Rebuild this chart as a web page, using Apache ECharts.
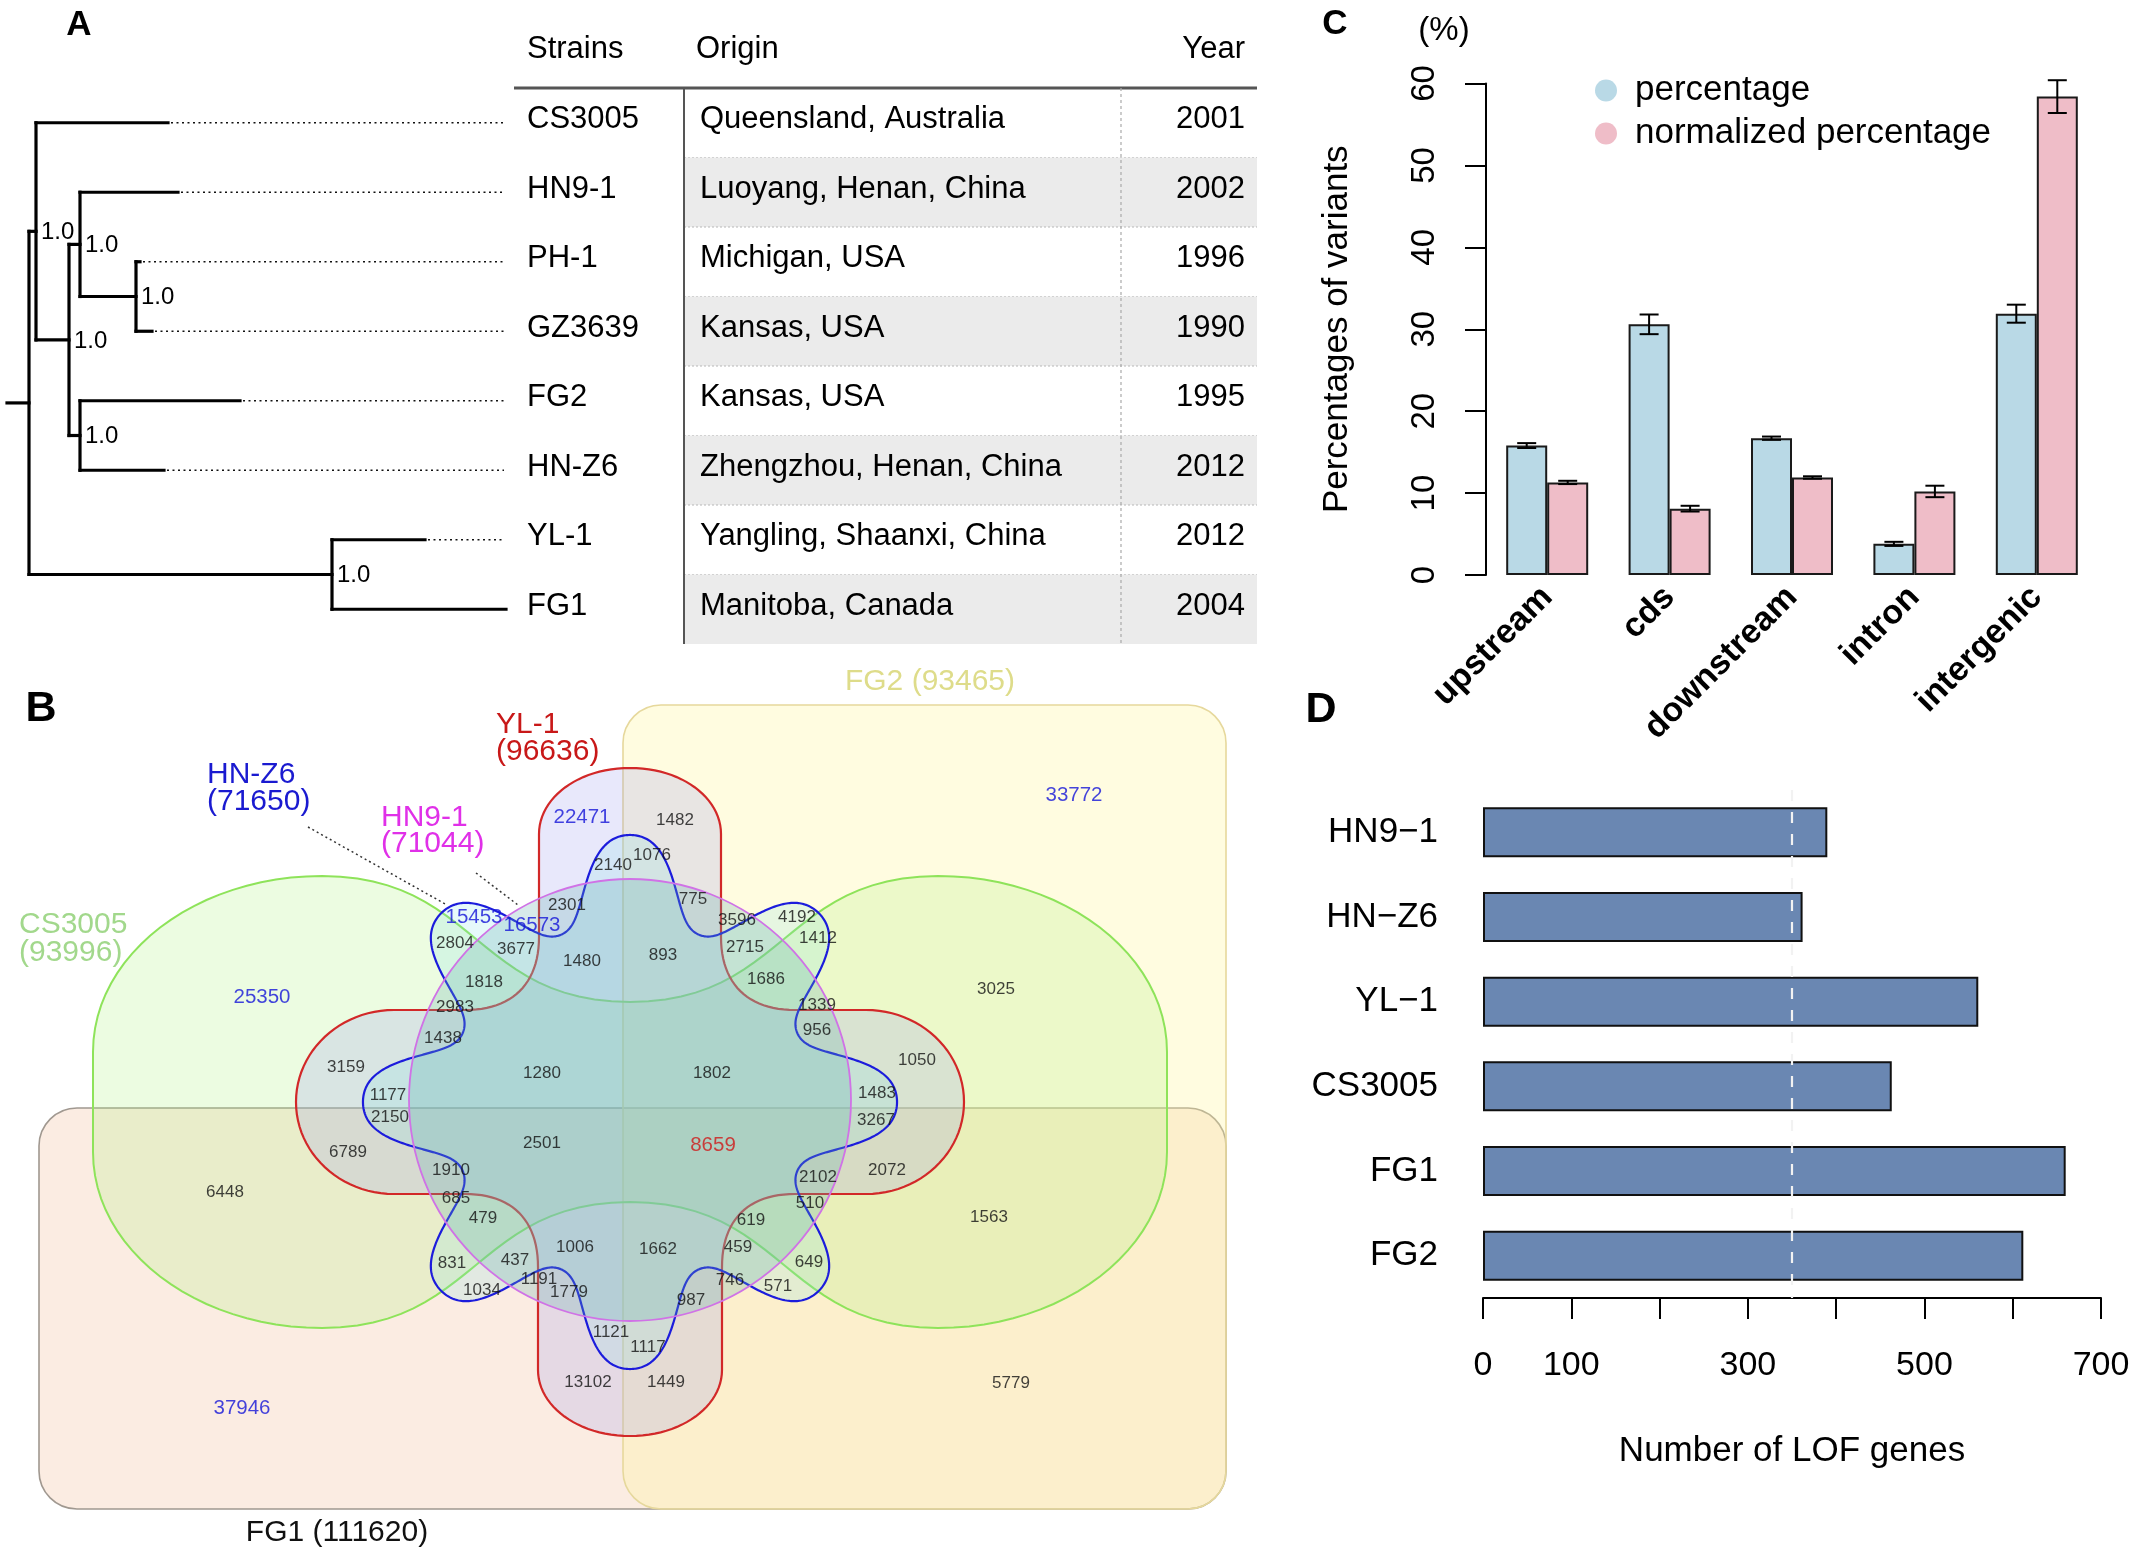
<!DOCTYPE html>
<html><head><meta charset="utf-8">
<script src="https://cdn.jsdelivr.net/npm/echarts@6/dist/echarts.min.js"></script>
<style>html,body{margin:0;padding:0;background:#fff}#c{width:2136px;height:1557px}</style>
</head><body><div id="c"></div><script>
const FONT = '"Liberation Sans", Arial, Helvetica, sans-serif';

// ---------- Panel A : tree + table ----------
const treeNodes  = ['root','n1','CS3005','n2','n3','HN9-1','n4','PH-1','GZ3639','n5','FG2','HN-Z6','n6','YL-1','FG1'];
const treeParent = [-1, 0, 1, 1, 3, 4, 4, 6, 6, 3, 9, 9, 0, 12, 12];
const branchLen  = [22, 7, 132, 33, 11, 98, 56, 4, 16, 11, 160, 84, 303, 93, 174];
const bootstrap  = ['', '1.0', '', '1.0', '1.0', '', '1.0', '', '', '1.0', '', '', '1.0', '', ''];
const strains    = ['CS3005','HN9-1','PH-1','GZ3639','FG2','HN-Z6','YL-1','FG1'];
const origins    = ['Queensland, Australia','Luoyang, Henan, China','Michigan, USA','Kansas, USA','Kansas, USA','Zhengzhou, Henan, China','Yangling, Shaanxi, China','Manitoba, Canada'];
const years      = ['2001','2002','1996','1990','1995','2012','2012','2004'];
const tableHeaders = ['Strains','Origin','Year'];

// ---------- Panel C : variant percentages ----------
const regionCats     = ['upstream','cds','downstream','intron','intergenic'];
const pctSeriesNames = ['percentage','normalized percentage'];
const pctValues      = [15.8, 30.6, 16.7, 3.8, 31.9];
const pctErr         = [0.3, 1.2, 0.2, 0.25, 1.1];
const normPctValues  = [11.3, 8.1, 11.9, 10.2, 58.4];
const normPctErr     = [0.2, 0.35, 0.15, 0.7, 2.0];

// ---------- Panel D : LOF genes ----------
const lofStrains    = ['HN9\u22121','HN\u2212Z6','YL\u22121','CS3005','FG1','FG2'];
const lofCounts     = [390, 362, 561, 463, 660, 612];
const lofRefLine    = 350;
const lofTickLabels = ['0','100','300','500','700'];

// ---------- Panel B : 6-set Venn ----------
const vennSetNames  = ['HN-Z6','HN9-1','YL-1','CS3005','FG2','FG1'];
const vennSetTotals = [71650, 71044, 96636, 93996, 93465, 111620];
const vennCounts = [22471,1482,2140,1076,2301,775,15453,16573,3596,4192,1412,2804,3677,1480,893,2715,1818,1686,2983,1339,956,1438,1280,1802,1483,33772,3025,1050,25350,3159,1177,2150,6789,2501,1910,6448,685,479,1006,831,437,1191,1034,1779,1121,13102,37946,8659,2102,510,619,1662,459,649,746,571,987,1117,1449,3267,2072,1563,5779];
const vennKind = vennCounts.map(v => [22471,15453,16573,33772,25350,37946].includes(v) ? 'unique' : (v === 8659 ? 'core' : 'shared'));
// label anchors (layout)
const vennPos = [[582,817],[675,820],[613,865],[652,855],[567,905],[693,899],[474,917],[532,925],[737,920],[797,917],[818,938],[455,943],[516,949],[582,961],[663,955],[745,947],[484,982],[766,979],[455,1007],[817,1005],[817,1030],[443,1038],[542,1073],[712,1073],[877,1093],[1074,795],[996,989],[917,1060],[262,997],[346,1067],[388,1095],[390,1117],[348,1152],[542,1143],[451,1170],[225,1192],[456,1198],[483,1218],[575,1247],[452,1263],[515,1260],[539,1279],[482,1290],[569,1292],[611,1332],[588,1382],[242,1408],[713,1145],[818,1177],[810,1203],[751,1220],[658,1249],[738,1247],[809,1262],[730,1280],[778,1286],[691,1300],[648,1347],[666,1382],[876,1120],[887,1170],[989,1217],[1011,1383]];

// ---------- tree layout ----------
const children = treeNodes.map((_, i) => treeParent.map((p, j) => p === i ? j : -1).filter(j => j >= 0));
const nodeX = [], nodeY = [];
function calcX(i){ if (nodeX[i] !== undefined) return nodeX[i]; nodeX[i] = (treeParent[i] < 0 ? 0 : calcX(treeParent[i])) + branchLen[i]; return nodeX[i]; }
function calcY(i){ if (!children[i].length) return (nodeY[i] = strains.indexOf(treeNodes[i])); const ys = children[i].map(calcY); nodeY[i] = (ys[0] + ys[ys.length-1]) / 2; return nodeY[i]; }
treeNodes.forEach((_, i) => calcX(i)); calcY(0);
const LEADER_END = 497;

const chart = echarts.init(document.getElementById('c'), null, {renderer:'canvas', width:2136, height:1557});

// ---------- Venn shape outlines (layout geometry) ----------
const VC = [630, 1102];
const k = 0.5523;
function flatten(start, cmds) {
  const pts = [[VC[0]+start[0], VC[1]+start[1]]];
  let cur = start;
  cmds.forEach(c => {
    if (c.length === 1) { pts.push([VC[0]+c[0][0], VC[1]+c[0][1]]); cur = c[0]; return; }
    const [p1, p2, p3] = c;
    for (let s = 1; s <= 24; s++) {
      const t = s/24, a = (1-t)*(1-t)*(1-t), b = 3*(1-t)*(1-t)*t, d = 3*(1-t)*t*t, e = t*t*t;
      pts.push([VC[0] + a*cur[0] + b*p1[0] + d*p2[0] + e*p3[0], VC[1] + a*cur[1] + b*p1[1] + d*p2[1] + e*p3[1]]);
    }
    cur = p3;
  });
  return pts;
}
const greenPts = flatten([-537,-50], [
  [[-537,-50-k*176],[-308-k*229,-226],[-308,-226]],
  [[-154,-226],[-154,-100],[0,-100]],
  [[154,-100],[154,-226],[308,-226]],
  [[308+k*229,-226],[537,-50-k*176],[537,-50]],
  [[537,50]],
  [[537,50+k*176],[308+k*229,226],[308,226]],
  [[154,226],[154,100],[0,100]],
  [[-154,100],[-154,226],[-308,226]],
  [[-308-k*229,226],[-537,50+k*176],[-537,50]]
]);
const redPts = flatten([0,-334], [
  [[52,-334],[91,-304],[91,-268]], [[91,-165]],
  [[91,-118],[118,-92],[165,-92]], [[236,-92]],
  [[290,-92],[334,-51],[334,0]],
  [[334,51],[290,92],[236,92]], [[165,92]],
  [[118,92],[92,118],[92,165]], [[92,268]],
  [[92,304],[52,334],[0,334]],
  [[-52,334],[-92,304],[-92,268]], [[-92,165]],
  [[-92,118],[-118,92],[-165,92]], [[-236,92]],
  [[-290,92],[-334,51],[-334,0]],
  [[-334,-51],[-290,-92],[-236,-92]], [[-165,-92]],
  [[-118,-92],[-91,-118],[-91,-165]], [[-91,-268]],
  [[-91,-304],[-52,-334],[0,-334]]
]);
const bluePts = [];
for (let s = 0; s < 1440; s++) { const t = 2*Math.PI*s/1440;
  const r = 224 + 45.3*(Math.cos(8*t) - 0.05*Math.cos(24*t));
  bluePts.push([VC[0]+r*Math.cos(t), VC[1]+r*Math.sin(t)]); }

const txt = (x, y, text, o) => Object.assign({type:'text', x, y, z:20, silent:true,
  style: Object.assign({text, fontFamily:FONT, fontSize:30, fill:'#000', align:'left', verticalAlign:'middle'}, o || {})});
const setLbl = i => vennSetNames[i] + '\n(' + vennSetTotals[i] + ')';

const graphics = [
  txt(79, 25, 'A', {fontSize:35, fontWeight:'bold', align:'center'}),
  txt(41, 709, 'B', {fontSize:43, fontWeight:'bold', align:'center'}),
  txt(1335, 24, 'C', {fontSize:35, fontWeight:'bold', align:'center'}),
  txt(1321, 710, 'D', {fontSize:43, fontWeight:'bold', align:'center'}),
  txt(1444, 31, '(%)', {fontSize:33, align:'center'}),
  {type:'line', z:15, silent:true, shape:{x1:514,y1:88,x2:1257,y2:88}, style:{stroke:'#555', lineWidth:3}},
  {type:'line', z:15, silent:true, shape:{x1:684,y1:88,x2:684,y2:644}, style:{stroke:'#555', lineWidth:2}},
  {type:'line', z:15, silent:true, shape:{x1:1121,y1:88,x2:1121,y2:644}, style:{stroke:'#aaa', lineWidth:1.2, lineDash:[3,3]}},
  txt(527, 49, tableHeaders[0], {fontSize:31}),
  txt(696, 49, tableHeaders[1], {fontSize:31}),
  txt(1245, 49, tableHeaders[2], {fontSize:31, align:'right'}),
  {type:'rect', z:1, silent:true, shape:{x:39,y:1108,width:1187,height:401,r:38}, style:{fill:'rgba(240,180,140,0.25)', stroke:'#a09890', lineWidth:1.6}},
  {type:'rect', z:1, silent:true, shape:{x:623,y:705,width:603,height:804,r:38}, style:{fill:'rgba(255,245,160,0.32)', stroke:'#e6d89c', lineWidth:1.6}},
  {type:'polygon', z:1, silent:true, shape:{points:greenPts}, style:{fill:'rgba(170,240,120,0.22)', stroke:'#8ee35a', lineWidth:2}},
  {type:'polygon', z:1, silent:true, shape:{points:redPts}, style:{fill:'rgba(150,150,235,0.22)', stroke:'#d22828', lineWidth:2.2}},
  {type:'polygon', z:1, silent:true, shape:{points:bluePts}, style:{fill:'rgba(130,225,230,0.2)', stroke:'#1c1cdc', lineWidth:2.2}},
  {type:'circle', z:1, silent:true, shape:{cx:630,cy:1100,r:221}, style:{fill:'rgba(100,175,175,0.26)', stroke:'#d072e6', lineWidth:1.8}},
  {type:'line', z:3, silent:true, shape:{x1:308,y1:827,x2:447,y2:905}, style:{stroke:'#333', lineWidth:1.5, lineDash:[2,3]}},
  {type:'line', z:3, silent:true, shape:{x1:476,y1:873,x2:518,y2:905}, style:{stroke:'#333', lineWidth:1.5, lineDash:[2,3]}},
  txt(207, 788, setLbl(0), {fill:'#1a1ad0', lineHeight:27}),
  txt(381, 831, setLbl(1), {fill:'#e030e8', lineHeight:26}),
  txt(496, 738, setLbl(2), {fill:'#c81818', lineHeight:27}),
  txt(19, 939, setLbl(3), {fill:'#a2d88c', lineHeight:28}),
  txt(930, 682, vennSetNames[4] + ' (' + vennSetTotals[4] + ')', {fill:'#dedc8a', align:'center'}),
  txt(337, 1533, vennSetNames[5] + ' (' + vennSetTotals[5] + ')', {fill:'#111', align:'center'})
];

// ---------- series ----------
const treeSeries = {
  type:'custom', xAxisIndex:0, yAxisIndex:0, silent:true, z:5,
  data: treeNodes.map((_, i) => [nodeX[i], nodeY[i]]),
  renderItem(params, api) {
    const i = params.dataIndex, els = [];
    const pt = (x, y) => api.coord([x, y]);
    const seg = (a, b, style) => els.push({type:'line', shape:{x1:a[0],y1:a[1],x2:b[0],y2:b[1]}, style});
    const solid = {stroke:'#000', lineWidth:3.2, lineCap:'square'};
    const x0 = treeParent[i] < 0 ? 0 : nodeX[treeParent[i]];
    seg(pt(x0, nodeY[i]), pt(nodeX[i], nodeY[i]), solid);
    const ch = children[i];
    if (ch.length) seg(pt(nodeX[i], nodeY[ch[0]]), pt(nodeX[i], nodeY[ch[ch.length-1]]), solid);
    else if (nodeX[i] < LEADER_END) seg(pt(nodeX[i] + 3, nodeY[i]), pt(LEADER_END, nodeY[i]), {stroke:'#111', lineWidth:1.6, lineDash:[2,3.5]});
    if (bootstrap[i]) { const p = pt(nodeX[i], nodeY[i]);
      els.push({type:'text', x:p[0] + 5, y:p[1] + 1, style:{text:bootstrap[i], fontFamily:FONT, fontSize:24, fill:'#000', align:'left', verticalAlign:'middle'}}); }
    return {type:'group', children:els};
  }
};
const tableSeries = {
  type:'custom', xAxisIndex:0, yAxisIndex:0, silent:true, z:4,
  data: strains.map((_, i) => [0, i]),
  renderItem(params, api) {
    const i = params.dataIndex;
    const yc = api.coord([0, i])[1], yt = api.coord([0, i-0.5])[1], yb = api.coord([0, i+0.5])[1];
    const els = [];
    if (i % 2 === 1) els.push({type:'rect', shape:{x:684, y:yt, width:573, height:yb-yt}, style:{fill:'#ebebeb'}});
    if (i < strains.length - 1) els.push({type:'line', shape:{x1:684,y1:yb,x2:1257,y2:yb}, style:{stroke:'#b8b8b8', lineWidth:1.2, lineDash:[2,2]}});
    const t = (x, s, al) => ({type:'text', x, y:yc - 3, style:{text:s, fontFamily:FONT, fontSize:31, fill:'#000', align:al, verticalAlign:'middle'}});
    els.push(t(527, strains[i], 'left'), t(700, origins[i], 'left'), t(1245, years[i], 'right'));
    return {type:'group', children:els};
  }
};
const BAR_W = 41;
const errData = [];
regionCats.forEach((_, i) => {
  errData.push([i, pctValues[i]-pctErr[i], pctValues[i]+pctErr[i], -1]);
  errData.push([i, normPctValues[i]-normPctErr[i], normPctValues[i]+normPctErr[i], 1]);
});
const errSeries = {
  type:'custom', xAxisIndex:1, yAxisIndex:1, silent:true, z:6, data:errData,
  encode:{x:0, y:[1,2]},
  renderItem(params, api) {
    const lo = api.coord([api.value(0), api.value(1)]), hi = api.coord([api.value(0), api.value(2)]);
    const x = lo[0] + api.value(3) * BAR_W / 2, cw = 9.5, st = {stroke:'#000', lineWidth:2};
    return {type:'group', children:[
      {type:'line', shape:{x1:x,y1:lo[1],x2:x,y2:hi[1]}, style:st},
      {type:'line', shape:{x1:x-cw,y1:lo[1],x2:x+cw,y2:lo[1]}, style:st},
      {type:'line', shape:{x1:x-cw,y1:hi[1],x2:x+cw,y2:hi[1]}, style:st}]};
  }
};

const option = {
  animation:false, backgroundColor:'#fff',
  textStyle:{fontFamily:FONT},
  grid:[
    {left:7, top:88, width:1250, height:556},
    {left:1486, top:83.5, width:612, height:491.5},
    {left:1483, top:790, width:618, height:508},
    {left:0, top:0, width:2136, height:1557}
  ],
  legend:{
    left:1590, top:68, orient:'vertical', itemGap:8, itemWidth:22, itemHeight:22, icon:'circle',
    data:pctSeriesNames, selectedMode:false,
    itemStyle:{borderWidth:0},
    textStyle:{fontSize:35, color:'#000', fontFamily:FONT, padding:[0,0,0,13]}
  },
  xAxis:[
    {gridIndex:0, type:'value', min:0, max:1250, show:false},
    {gridIndex:1, type:'category', data:regionCats, axisLine:{show:false}, axisTick:{show:false},
     axisLabel:{rotate:45, interval:0, fontSize:34, fontWeight:'bold', color:'#000', margin:17, fontFamily:FONT}},
    {gridIndex:2, type:'value', min:0, max:700, interval:100,
     axisLine:{show:true, lineStyle:{color:'#000', width:2}},
     axisTick:{show:true, length:21, lineStyle:{color:'#000', width:2}},
     splitLine:{show:false},
     axisLabel:{fontSize:34, color:'#000', margin:51, fontFamily:FONT, formatter:v => lofTickLabels.includes(String(v)) ? String(v) : ''},
     name:'Number of LOF genes', nameLocation:'middle', nameGap:136, nameTextStyle:{fontSize:35, color:'#000', fontFamily:FONT}},
    {gridIndex:3, type:'value', min:0, max:2136, show:false}
  ],
  yAxis:[
    {gridIndex:0, type:'value', min:-0.5, max:7.5, inverse:true, show:false},
    {gridIndex:1, type:'value', min:0, max:60, interval:10,
     axisLine:{show:true, lineStyle:{color:'#000', width:2}},
     axisTick:{show:true, length:21, lineStyle:{color:'#000', width:2}},
     splitLine:{show:false},
     axisLabel:{rotate:90, fontSize:33, color:'#000', margin:45, fontFamily:FONT},
     name:'Percentages of variants', nameLocation:'middle', nameRotate:90, nameGap:131,
     nameTextStyle:{fontSize:35, color:'#000', fontFamily:FONT}},
    {gridIndex:2, type:'category', data:lofStrains, inverse:true, axisLine:{show:false}, axisTick:{show:false},
     axisLabel:{fontSize:35, color:'#000', margin:45, fontFamily:FONT}},
    {gridIndex:3, type:'value', min:0, max:1557, inverse:true, show:false}
  ],
  series:[
    treeSeries, tableSeries,
    {name:pctSeriesNames[0], type:'bar', xAxisIndex:1, yAxisIndex:1, data:pctValues, barWidth:BAR_W, barGap:'0%',
     itemStyle:{color:'#b9d9e6', borderColor:'#1a1a1a', borderWidth:2}},
    {name:pctSeriesNames[1], type:'bar', xAxisIndex:1, yAxisIndex:1, data:normPctValues, barWidth:BAR_W, barGap:'0%',
     itemStyle:{color:'#efbdc8', borderColor:'#1a1a1a', borderWidth:2}},
    errSeries,
    {type:'bar', xAxisIndex:2, yAxisIndex:2, data:lofCounts, barWidth:50, silent:true,
     itemStyle:{color:'#6a87b2', borderColor:'#111', borderWidth:2},
     markLine:{symbol:['none','none'], silent:true, label:{show:false},
       lineStyle:{color:'#f2f2f2', type:[11,11], width:2.2}, data:[{xAxis:lofRefLine}]}},
    {type:'scatter', xAxisIndex:3, yAxisIndex:3, z:10, silent:true, symbolSize:1,
     itemStyle:{color:'rgba(0,0,0,0)'},
     data: vennCounts.map((c, i) => ({value:[vennPos[i][0], vennPos[i][1], c],
       label:{color: vennKind[i] === 'unique' ? '#1414d8' : (vennKind[i] === 'core' ? '#d01818' : '#111'),
              fontSize: vennKind[i] === 'shared' ? 17 : 20.5}})),
     label:{show:true, position:'inside', fontFamily:FONT, formatter:p => String(p.value[2])}}
  ],
  graphic:{elements:graphics}
};
chart.setOption(option);
</script></body></html>
